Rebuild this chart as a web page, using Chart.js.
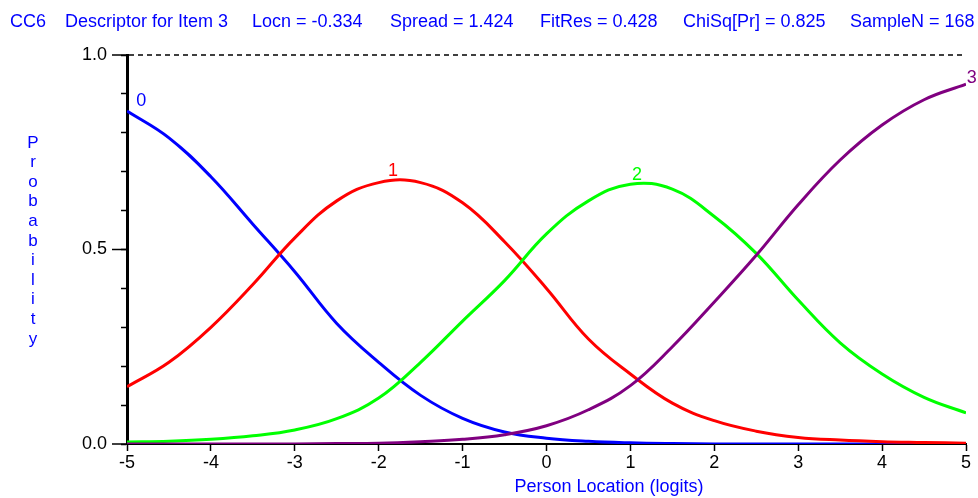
<!DOCTYPE html>
<html>
<head>
<meta charset="utf-8">
<script src="https://cdn.jsdelivr.net/npm/chart.js@4/dist/chart.umd.min.js"></script>
<style>
  html, body { margin: 0; padding: 0; background: #fff; }
  #wrap { width: 978px; height: 498px; position: relative; }
</style>
</head>
<body>
<div id="wrap"><canvas id="ccc"></canvas></div>
<script>
// Courbes caractéristiques des catégories
const logits = [-5, -4.5, -4, -3.5, -3, -2.5, -2, -1.5, -1, -0.5, 0, 0.5, 1, 1.5, 2, 2.5, 3, 3.5, 4, 4.5, 5];
const cat0 = [0.856, 0.787, 0.687, 0.565, 0.443, 0.31, 0.21, 0.125, 0.066, 0.031, 0.015, 0.007, 0.003, 0.001, 0, 0, 0, 0, 0, 0, 0];
const cat1 = [0.147, 0.21, 0.30, 0.41, 0.53, 0.625, 0.672, 0.672, 0.62, 0.52, 0.40, 0.27, 0.18, 0.105, 0.06, 0.033, 0.017, 0.01, 0.006, 0.004, 0.002];
const cat2 = [0.005, 0.007, 0.012, 0.021, 0.036, 0.065, 0.118, 0.21, 0.316, 0.42, 0.54, 0.625, 0.668, 0.655, 0.585, 0.49, 0.37, 0.26, 0.18, 0.12, 0.08];
const cat3 = [0, 0, 0, 0, 0, 0.001, 0.002, 0.006, 0.012, 0.024, 0.047, 0.088, 0.15, 0.25, 0.365, 0.485, 0.615, 0.73, 0.82, 0.885, 0.925];

const catNames = ['0', '1', '2', '3'];
const catColors = ['#0000ff', '#ff0000', '#00ff00', '#800080'];
// où poser l'étiquette de chaque courbe (en logits / probabilité)
const labelAt = [[-4.83, 0.882], [-1.83, 0.702], [1.08, 0.692], [5.07, 0.941]];

const header = [
    ['CC6', 10],
    ['Descriptor for Item 3', 65],
    ['Locn = -0.334', 252],
    ['Spread = 1.424', 390],
    ['FitRes = 0.428', 540],
    ['ChiSq[Pr] = 0.825', 683],
    ['SampleN = 168', 850]
];

const FONT = '"Liberation Sans", Arial, sans-serif';

function pts(arr) {
    return logits.map((x, i) => ({ x: x, y: arr[i] }));
}

// Textes, ligne pointillée et graduations longues
const decor = {
    id: 'decor',
    afterDraw(chart) {
        const ctx = chart.ctx;
        const xs = chart.scales.x, ys = chart.scales.y;
        const area = chart.chartArea;
        ctx.save();

        // ligne 1.0 en tirets
        ctx.strokeStyle = '#000';
        ctx.lineWidth = 1.5;
        ctx.setLineDash([5, 4]);
        ctx.beginPath();
        ctx.moveTo(area.left + 2, ys.getPixelForValue(1));
        ctx.lineTo(area.right, ys.getPixelForValue(1));
        ctx.stroke();
        ctx.setLineDash([]);

        // graduations principales plus longues
        ctx.lineWidth = 1.5;
        [0, 0.5, 1].forEach(v => {
            const py = ys.getPixelForValue(v);
            ctx.beginPath();
            ctx.moveTo(area.left - 15, py);
            ctx.lineTo(area.left, py);
            ctx.stroke();
        });

        // en-tête
        ctx.fillStyle = '#0000ff';
        ctx.font = '18px ' + FONT;
        ctx.textBaseline = 'middle';
        ctx.textAlign = 'left';
        header.forEach(h => ctx.fillText(h[0], h[1], 22));

        // titre axe y, lettres empilées
        const word = 'Probability';
        ctx.font = '17px ' + FONT;
        ctx.textAlign = 'center';
        for (let i = 0; i < word.length; i++) {
            ctx.fillText(word[i], 33, 143 + i * 19.6);
        }

        // titre axe x
        ctx.font = '18px ' + FONT;
        ctx.fillText('Person Location (logits)', 609, 487);

        // étiquettes des courbes
        labelAt.forEach((p, i) => {
            ctx.fillStyle = catColors[i];
            ctx.fillText(catNames[i], xs.getPixelForValue(p[0]), ys.getPixelForValue(p[1]));
        });
        ctx.restore();
    }
};

const datasets = [cat0, cat1, cat2, cat3].map((arr, i) => ({
    label: catNames[i],
    data: pts(arr),
    borderColor: catColors[i],
    borderWidth: 3,
    pointRadius: 0,
    fill: false,
    tension: 0.4,
    order: 3 - i
}));

const chart = new Chart(document.getElementById('ccc'), {
    type: 'line',
    data: { datasets: datasets },
    options: {
        responsive: true,
        maintainAspectRatio: false,
        animation: false,
        layout: { padding: { top: 55, right: 12, left: 0, bottom: 0 } },
        plugins: {
            legend: { display: false },
            tooltip: { enabled: false }
        },
        scales: {
            x: {
                type: 'linear',
                min: -5,
                max: 5,
                afterFit(scale) { scale.height = 54; },
                ticks: {
                    stepSize: 1,
                    color: '#000',
                    padding: 1,
                    font: { size: 18, family: FONT },
                    maxRotation: 0
                },
                grid: {
                    drawOnChartArea: false,
                    drawTicks: true,
                    tickLength: 7,
                    tickColor: '#000',
                    tickWidth: 1.5
                },
                border: { display: true, color: '#000', width: 2 }
            },
            y: {
                min: 0,
                max: 1,
                afterFit(scale) { scale.width = 127; },
                ticks: {
                    stepSize: 0.1,
                    autoSkip: false,
                    color: '#000',
                    padding: 14,
                    font: { size: 18, family: FONT },
                    callback(v) {
                        const r = Math.round(v * 10);
                        return (r === 0 || r === 5 || r === 10) ? (r / 10).toFixed(1) : '';
                    }
                },
                grid: {
                    drawOnChartArea: false,
                    drawTicks: true,
                    tickLength: 6,
                    tickColor: '#000',
                    tickWidth: 1.5
                },
                border: { display: true, color: '#000', width: 3 }
            }
        }
    },
    plugins: [decor]
});
</script>
</body>
</html>
